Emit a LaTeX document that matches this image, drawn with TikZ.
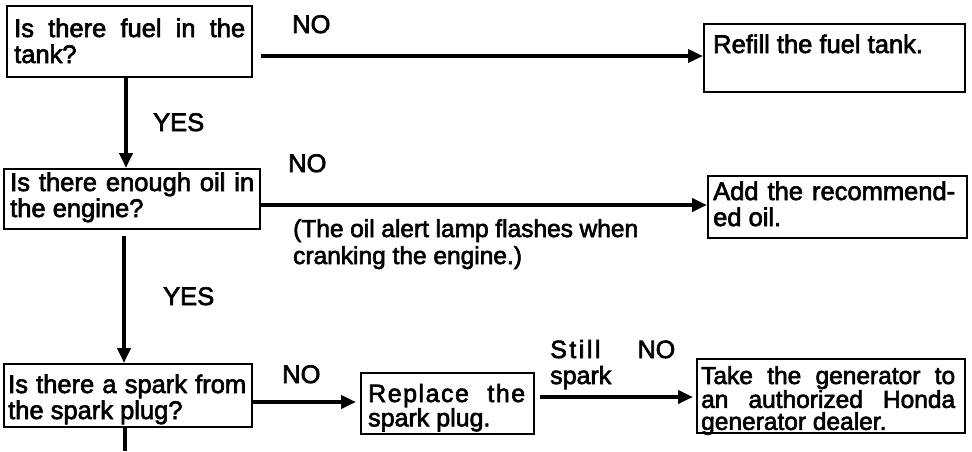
\documentclass[tikz,border=0pt]{standalone}
\usepackage{fontspec}
\setmainfont{Liberation Sans}[FakeBold=2.5]
\usetikzlibrary{arrows.meta}
\begin{document}
\begin{tikzpicture}[x=1pt,y=-1pt,
  box/.style={draw, line width=1.8pt, inner sep=0pt, anchor=north west},
  txt/.style={anchor=base west, inner sep=0pt, font=\fontsize{25.5}{26}\selectfont},
  conn/.style={line width=4.2pt},
  arr/.style={conn, -{Triangle[length=15pt,width=13pt]}}]
\fill[white] (0,0) rectangle (972,451);
\useasboundingbox (0,0) rectangle (972,451);

% boxes
\node[box, minimum width=245pt, minimum height=71pt] (b1) at (6,5) {};
\node[box, minimum width=256pt, minimum height=60pt] (b2) at (3,168) {};
\node[box, minimum width=248pt, minimum height=63pt] (b3) at (3,363) {};
\node[box, minimum width=261pt, minimum height=68pt] (refill) at (703,23) {};
\node[box, minimum width=259pt, minimum height=62pt] (add) at (707,175) {};
\node[box, minimum width=173pt, minimum height=61pt] (repl) at (360,372) {};
\node[box, minimum width=268pt, minimum height=74pt] (take) at (696,358) {};

% box texts
\node[txt] (t1) at (14,37) {\parbox[t]{300pt}{\makebox[231pt][s]{Is there fuel in the}\\tank?}};
\node[txt] (t2) at (10,191) {\parbox[t]{300pt}{\makebox[244pt][s]{Is there enough oil in}\\the engine?}};
\node[txt] (t3) at (8,393) {\parbox[t]{300pt}{\makebox[238pt][s]{Is there a spark from}\\the spark plug?}};
\node[txt] (t4) at (713,53) {Refill the fuel tank.};
\node[txt] (t5) at (713,200) {\parbox[t]{300pt}{\makebox[242pt][s]{Add the recommend-}\\ed oil.}};
\node[txt, font=\fontsize{25}{23}\selectfont] (t6) at (368,402) {\parbox[t]{200pt}{\makebox[157pt][s]{\addfontfeature{LetterSpace=6,FakeBold=2.5}Replace the}\\spark plug.}};
\node[txt, font=\fontsize{24.5}{22}\selectfont] (t7) at (701,384) {\parbox[t]{300pt}{\makebox[254pt][s]{Take the generator to}\\\makebox[254pt][s]{an authorized Honda}\\generator dealer.}};

% labels
\node[txt, font=\fontsize{24.5}{27}\selectfont] (note) at (293,237) {\parbox[t]{400pt}{\makebox[345pt][s]{(The oil alert lamp flashes when}\\cranking the engine.)}};
\node[txt] (no1) at (292,33) {NO};
\node[txt] (no2) at (288,172) {NO};
\node[txt] (no3) at (282,383) {NO};
\node[txt] (yes1) at (153,131) {YES};
\node[txt] (yes2) at (163,305) {YES};
\node[txt, font=\fontsize{25}{26}\selectfont] (still) at (550,358) {\parbox[t]{200pt}{\makebox[125pt][s]{\makebox[53pt][s]{\addfontfeature{LetterSpace=10,FakeBold=2.5}Still}\hfill NO}\\spark}};

% helper coordinates
\coordinate (y1) at (0,56);
\coordinate (y2) at (0,205);
\coordinate (y3) at (0,402);
\coordinate (y4) at (0,397);
\coordinate (x1) at (126,0);
\coordinate (x2) at (124,0);
\coordinate (x3) at (125,0);
\coordinate (endc) at (125,451);

% connectors
\draw[arr, shorten <=8pt] (b1.east |- y1) -- (refill.west |- y1);
\draw[arr] (b1.south -| x1) -- (b2.north -| x1);
\draw[arr] (b2.east |- y2) -- (add.west |- y2);
\draw[arr, shorten <=6pt] (b2.south -| x2) -- (b3.north -| x2);
\draw[arr, shorten >=4pt] (b3.east |- y3) -- (repl.west |- y3);
\draw[arr, shorten <=5pt, shorten >=3pt] (repl.east |- y4) -- (take.west |- y4);
\draw[conn] (b3.south -| x3) -- (endc);
\end{tikzpicture}
\end{document}
